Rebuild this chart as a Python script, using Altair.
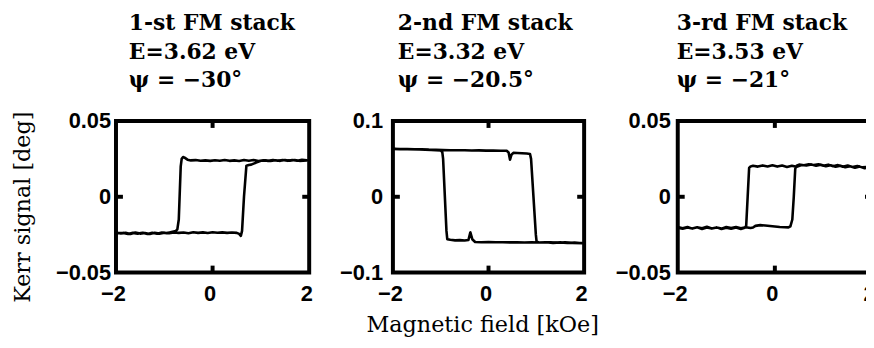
import altair as alt
import pandas as pd

# ---------------- data ----------------
titles = [
    ["1-st FM stack", "E=3.62 eV", "ψ = −30°"],
    ["2-nd FM stack", "E=3.32 eV", "ψ = −20.5°"],
    ["3-rd FM stack", "E=3.53 eV", "ψ = −21°"],
]
x_title = "Magnetic field [kOe]"
y_title = "Kerr signal [deg]"
x_ticks = [-2, 0, 2]
y_ticks_1 = [-0.05, 0, 0.05]
y_ticks_2 = [-0.1, 0, 0.1]
y_ticks_3 = [-0.05, 0, 0.05]

# panel 1 loop (path order)
p1_x = [-2.00, -1.90, -1.80, -1.70, -1.60, -1.50, -1.40, -1.30, -1.20, -1.10,
        -1.00, -0.90, -0.80, -0.70, -0.60, -0.50, -0.40, -0.30, -0.20, -0.10,
        0.00, 0.10, 0.20, 0.30, 0.40, 0.50, 0.55, 0.585, 0.61, 0.65,
        0.70, 0.75, 0.80, 0.90, 1.00, 1.10, 1.20, 1.30, 1.40, 1.50,
        1.60, 1.70, 1.80, 1.95,
        1.85, 1.75, 1.65, 1.55, 1.45, 1.35, 1.25, 1.15, 1.05, 0.95,
        0.85, 0.75, 0.65, 0.55, 0.45, 0.35, 0.25, 0.15, 0.05, -0.05,
        -0.15, -0.25, -0.35, -0.45, -0.52, -0.58, -0.611, -0.64, -0.66, -0.70,
        -0.73, -0.76, -0.85, -0.95, -1.05, -1.15, -1.25, -1.35, -1.45, -1.55,
        -1.65, -1.75, -1.85, -2.00]
p1_y = [-0.0236, -0.0242, -0.0238, -0.0245, -0.0236, -0.0243, -0.0239, -0.0246, -0.0238, -0.0243,
        -0.0237, -0.0241, -0.0235, -0.0238, -0.0236, -0.0240, -0.0234, -0.0238, -0.0235, -0.0239,
        -0.0234, -0.0237, -0.0235, -0.0238, -0.0236, -0.0238, -0.0245, -0.0258, -0.0225, 0.0000,
        0.0205, 0.0210, 0.0212, 0.0225, 0.0238, 0.0240, 0.0236, 0.0241, 0.0237, 0.0243,
        0.0238, 0.0242, 0.0237, 0.0240,
        0.0244, 0.0238, 0.0243, 0.0237, 0.0242, 0.0238, 0.0243, 0.0237, 0.0241, 0.0236,
        0.0242, 0.0238, 0.0243, 0.0236, 0.0240, 0.0237, 0.0242, 0.0238, 0.0241, 0.0237,
        0.0240, 0.0238, 0.0242, 0.0240, 0.0245, 0.0258, 0.0262, 0.0250, 0.0200, -0.0150,
        -0.0215, -0.0225, -0.0232, -0.0240, -0.0236, -0.0244, -0.0238, -0.0245, -0.0237, -0.0243,
        -0.0238, -0.0246, -0.0239, -0.0240]

# panel 2 loop (path order)
p2_x = [-2.00, -1.85, -1.70, -1.55, -1.40, -1.25, -1.10, -0.95, -0.80, -0.65,
        -0.50, -0.35, -0.20, -0.05, 0.10, 0.25, 0.38, 0.42, 0.45, 0.48,
        0.52, 0.60, 0.70, 0.80, 0.868, 0.89, 0.99, 1.006, 1.05, 1.15,
        1.30, 1.45, 1.60, 1.75, 1.96,
        1.80, 1.65, 1.50, 1.35, 1.20, 1.05, 0.90, 0.75, 0.60, 0.45,
        0.30, 0.15, 0.00, -0.15, -0.28, -0.34, -0.38, -0.42, -0.50, -0.60,
        -0.70, -0.80, -0.863, -0.88, -0.95, -0.967, -1.00, -1.20, -1.45, -1.70,
        -2.00]
p2_y = [0.0632, 0.0628, 0.0630, 0.0625, 0.0627, 0.0622, 0.0620, 0.0618, 0.0615, 0.0613,
        0.0614, 0.0611, 0.0612, 0.0609, 0.0611, 0.0608, 0.0607, 0.0585, 0.0490, 0.0555,
        0.0580, 0.0578, 0.0574, 0.0570, 0.0565, 0.0500, -0.0500, -0.0595, -0.0600, -0.0604,
        -0.0600, -0.0606, -0.0602, -0.0608, -0.0612,
        -0.0605, -0.0610, -0.0602, -0.0608, -0.0600, -0.0604, -0.0601, -0.0603, -0.0600, -0.0602,
        -0.0599, -0.0601, -0.0598, -0.0600, -0.0596, -0.0560, -0.0470, -0.0570, -0.0578, -0.0572,
        -0.0575, -0.0568, -0.0560, -0.0450, 0.0500, 0.0590, 0.0610, 0.0617, 0.0623, 0.0628,
        0.0632]

# panel 3 loop (path order)
p3_x = [-2.00, -1.90, -1.80, -1.70, -1.60, -1.50, -1.40, -1.30, -1.20, -1.10,
        -1.00, -0.90, -0.80, -0.70, -0.60, -0.50, -0.45, -0.40, -0.30, -0.20,
        -0.10, 0.00, 0.10, 0.20, 0.28, 0.32, 0.36, 0.39, 0.42, 0.45,
        0.50, 0.60, 0.70, 0.80, 0.90, 1.00, 1.10, 1.20, 1.30, 1.40,
        1.50, 1.60, 1.70, 1.80, 1.96,
        1.85, 1.75, 1.65, 1.55, 1.45, 1.35, 1.25, 1.15, 1.05, 0.95,
        0.85, 0.75, 0.65, 0.55, 0.45, 0.35, 0.25, 0.15, 0.05, -0.05,
        -0.15, -0.25, -0.35, -0.45, -0.50, -0.53, -0.56, -0.59, -0.62, -0.70,
        -0.80, -0.90, -1.00, -1.10, -1.20, -1.30, -1.40, -1.50, -1.60, -1.70,
        -1.80, -1.90, -2.00]
p3_y = [-0.0200, -0.0208, -0.0199, -0.0210, -0.0201, -0.0207, -0.0198, -0.0209, -0.0202, -0.0210,
        -0.0200, -0.0206, -0.0199, -0.0207, -0.0201, -0.0206, -0.0203, -0.0192, -0.0187, -0.0190,
        -0.0193, -0.0196, -0.0199, -0.0201, -0.0202, -0.0195, -0.0150, 0.0000, 0.0185, 0.0205,
        0.0212, 0.0208, 0.0215, 0.0210, 0.0214, 0.0205, 0.0212, 0.0202, 0.0209, 0.0198,
        0.0206, 0.0196, 0.0203, 0.0194, 0.0197,
        0.0188, 0.0199, 0.0191, 0.0201, 0.0195, 0.0205, 0.0198, 0.0208, 0.0201, 0.0211,
        0.0205, 0.0213, 0.0207, 0.0210, 0.0198, 0.0205, 0.0197, 0.0206, 0.0199, 0.0208,
        0.0200, 0.0207, 0.0199, 0.0204, 0.0200, 0.0190, 0.0000, -0.0190, -0.0205, -0.0212,
        -0.0203, -0.0211, -0.0204, -0.0213, -0.0202, -0.0210, -0.0203, -0.0212, -0.0201, -0.0209,
        -0.0202, -0.0211, -0.0204]

# ---------------- chart ----------------
H = 153
SERIF = "DejaVu Serif"
SANS = "Liberation Sans"

LBL = dict(labelFont=SANS, labelFontWeight="bold", labelFontSize=22, labelColor="black",
           domain=False, ticks=False, grid=False, labelFlush=False)


def panel(xs, ys, ydom, yvals, title, title_dx, W, ypad, ytitle=None):
    df = pd.DataFrame({"x": xs, "y": ys, "i": list(range(len(xs)))})
    xaxis = alt.Axis(values=x_ticks, format="d", labelOffset=-3, labelPadding=11,
                     title=None, **LBL)
    ykw = dict(values=yvals, format="~g", labelPadding=ypad, **LBL)
    if ytitle:
        ykw.update(title=ytitle, titleX=-87, titleY=H / 2 + 10, titleAngle=-90,
                   titleBaseline="alphabetic", titleAlign="center",
                   titleFont=SERIF, titleFontSize=22.5, titleFontWeight="normal",
                   titleColor="black")
    else:
        ykw.update(title=None)
    yaxis = alt.Axis(**ykw)
    xs_ = alt.Scale(domain=[-2, 2], nice=False, zero=False)
    ys_ = alt.Scale(domain=ydom, nice=False, zero=False)

    line = alt.Chart(df).mark_line(color="black", strokeWidth=2.6, strokeJoin="round").encode(
        x=alt.X("x:Q", scale=xs_, axis=xaxis),
        y=alt.Y("y:Q", scale=ys_, axis=yaxis),
        order="i:Q",
    )
    xt = pd.DataFrame({"x": [0]})
    yt = pd.DataFrame({"y": [0]})
    tk = dict(color="black", strokeWidth=4)
    t_top = alt.Chart(xt).mark_rule(**tk).encode(
        x=alt.X("x:Q", scale=xs_, axis=xaxis), y=alt.value(0), y2=alt.value(7))
    t_bot = alt.Chart(xt).mark_rule(**tk).encode(
        x=alt.X("x:Q", scale=xs_, axis=xaxis), y=alt.value(H), y2=alt.value(H - 7))
    t_lft = alt.Chart(yt).mark_rule(**tk).encode(
        y=alt.Y("y:Q", scale=ys_, axis=yaxis), x=alt.value(0), x2=alt.value(7))
    t_rgt = alt.Chart(yt).mark_rule(**tk).encode(
        y=alt.Y("y:Q", scale=ys_, axis=yaxis), x=alt.value(W), x2=alt.value(W - 7))

    return alt.layer(line, t_top, t_bot, t_lft, t_rgt).properties(
        width=W, height=H,
        title=alt.TitleParams(text=title, anchor="start", dx=title_dx, font=SERIF,
                              fontWeight="bold", fontSize=22, lineHeight=29,
                              color="black", offset=18, frame="group"),
    )


c1 = panel(p1_x, p1_y, [-0.05, 0.05], y_ticks_1, titles[0], 13, 195, 5.5, ytitle=y_title)
c2 = panel(p2_x, p2_y, [-0.1, 0.1], y_ticks_2, titles[1], 5, 193, 10.5)
c3 = panel(p3_x, p3_y, [-0.05, 0.05], y_ticks_3, titles[2], -1, 196, 7.5)

chart = alt.hconcat(c1, c2, c3, spacing=22.5).properties(
    padding={"left": 1, "top": 0.5, "right": -12, "bottom": -1},
    title=alt.TitleParams(text=x_title, orient="bottom", anchor="middle", frame="bounds",
                          dx=39.5, offset=8, font=SERIF, fontSize=22.5, fontWeight="normal",
                          color="black"),
).configure(background="white").configure_view(stroke="black", strokeWidth=4)

chart.save("out.html", embed_options={"renderer": "svg", "actions": False})
